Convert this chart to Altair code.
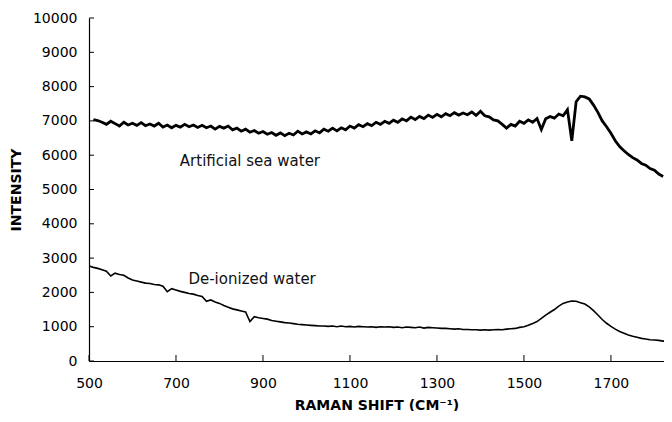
import altair as alt
import pandas as pd

# ---- data ----
sea_x = list(range(510, 1821, 10))
sea_y = [
    7040, 7010, 6960, 6900, 6990, 6920, 6850, 6960, 6880, 6930,   # 510-600
    6870, 6950, 6860, 6910, 6850, 6930, 6820, 6880, 6800, 6870,   # 610-700
    6820, 6900, 6830, 6880, 6810, 6870, 6800, 6850, 6760, 6840,   # 710-800
    6790, 6850, 6740, 6790, 6700, 6760, 6670, 6720, 6640, 6690,   # 810-900
    6610, 6660, 6580, 6650, 6570, 6640, 6590, 6700, 6620, 6680,   # 910-1000
    6620, 6710, 6650, 6760, 6700, 6790, 6710, 6800, 6740, 6850,   # 1010-1100
    6790, 6890, 6830, 6920, 6860, 6960, 6900, 6990, 6930, 7020,   # 1110-1200
    6960, 7060, 7000, 7110, 7040, 7130, 7070, 7170, 7100, 7190,   # 1210-1300
    7120, 7210, 7150, 7240, 7170, 7230, 7180, 7260, 7160, 7280,   # 1310-1400
    7150, 7120, 7030, 7000, 6900, 6790, 6900, 6850, 6990, 6930,   # 1410-1500
    7030, 6960, 7070, 6750, 7060, 7130, 7080, 7200, 7150, 7330,   # 1510-1600
    6420, 7560, 7720, 7700, 7640, 7460, 7250, 7000, 6830, 6640,   # 1610-1700
    6420, 6250, 6130, 6020, 5930, 5860, 5760, 5710, 5610, 5560,   # 1710-1800
    5450, 5380,                                                   # 1810-1820
]

di_x = list(range(500, 1841, 10))
di_y = [
    2770, 2730, 2700, 2660, 2620, 2480, 2560, 2520, 2500, 2420,   # 500-590
    2360, 2330, 2300, 2270, 2260, 2230, 2220, 2180, 2020, 2110,   # 600-690
    2070, 2030, 2000, 1970, 1950, 1910, 1880, 1740, 1780, 1720,   # 700-790
    1680, 1620, 1570, 1520, 1490, 1460, 1430, 1150, 1290, 1260,   # 800-890
    1240, 1220, 1180, 1160, 1140, 1120, 1110, 1090, 1070, 1060,   # 900-990
    1050, 1040, 1030, 1020, 1020, 1010, 1020, 1000, 1020, 1000,   # 1000-1090
    1010, 990, 1010, 1000, 990, 1000, 980, 1000, 990, 1000,       # 1100-1190
    980, 990, 970, 990, 980, 970, 990, 960, 980, 970,             # 1200-1290
    960, 950, 950, 940, 930, 940, 920, 920, 910, 910,             # 1300-1390
    900, 910, 900, 910, 920, 910, 930, 940, 950, 980,             # 1400-1490
    1000, 1040, 1090, 1150, 1240, 1340, 1420, 1500, 1600, 1680,   # 1500-1590
    1720, 1750, 1740, 1700, 1660, 1580, 1470, 1340, 1210, 1100,   # 1600-1690
    1010, 930, 860, 810, 760, 720, 690, 660, 640, 620,            # 1700-1790
    610, 600, 580, 570, 560,                                      # 1800-1840
]

x_ticks = [500, 700, 900, 1100, 1300, 1500, 1700]
y_ticks = [0, 1000, 2000, 3000, 4000, 5000, 6000, 7000, 8000, 9000, 10000]

labels = ["Artificial sea water", "De-ionized water"]
label_x = [870, 875]
label_y = [5830, 2390]

# ---- tables ----
sea_df = pd.DataFrame({"shift": sea_x, "intensity": sea_y})
di_df = pd.DataFrame({"shift": di_x, "intensity": di_y})
lab_df = pd.DataFrame({"shift": label_x, "intensity": label_y, "label": labels})
yt_df = pd.DataFrame({"intensity": y_ticks})
xt_df = pd.DataFrame({"shift": x_ticks})

W, H = 575, 343
FONT = "DejaVu Sans"

xscale = alt.Scale(domain=[500, 1822], nice=False, zero=False)
yscale = alt.Scale(domain=[0, 10000], nice=False, zero=False)

xaxis = alt.Axis(values=x_ticks, ticks=False, grid=False, labelPadding=15,
                 format="d", labelOverlap=False, labelFlush=False,
                 title="RAMAN SHIFT (CM⁻¹)", titlePadding=8)
yaxis = alt.Axis(values=y_ticks, ticks=False, grid=False, labelPadding=12,
                 format="d", labelOverlap=False, labelFlush=False,
                 title="INTENSITY", titlePadding=9)


def X(field="shift:Q"):
    return alt.X(field, scale=xscale, axis=xaxis)


def Y(field="intensity:Q"):
    return alt.Y(field, scale=yscale, axis=yaxis)


sea = alt.Chart(sea_df).mark_line(color="black", strokeWidth=2.8, clip=True,
                                  strokeJoin="miter").encode(x=X(), y=Y())

di = alt.Chart(di_df).mark_line(color="black", strokeWidth=1.6, clip=True).encode(
    x=X(), y=Y())

yt = alt.Chart(yt_df).mark_rule(color="black", strokeWidth=1).encode(
    y=Y(), x=alt.value(0), x2=alt.value(5))

xt = alt.Chart(xt_df).mark_rule(color="black", strokeWidth=1).encode(
    x=X(), y=alt.value(H), y2=alt.value(H - 6))

txt = alt.Chart(lab_df).mark_text(font=FONT, fontSize=15, color="#111111").encode(
    x=X(), y=Y(), text="label:N")

chart = alt.layer(sea, di, yt, xt, txt).properties(
    width=W, height=H,
    autosize=alt.AutoSizeParams(type="none"),
    padding={"left": 81, "top": 10, "right": 0, "bottom": 50},
).configure_view(stroke=None).configure_axis(
    labelFont=FONT, labelFontSize=14, labelColor="black",
    titleFont=FONT, titleFontSize=14, titleFontWeight="bold", titleColor="black",
    domainColor="black", domainWidth=1.2, labelOverlap=False,
)

chart.save("out.html", embed_options={"renderer": "svg", "actions": False})
